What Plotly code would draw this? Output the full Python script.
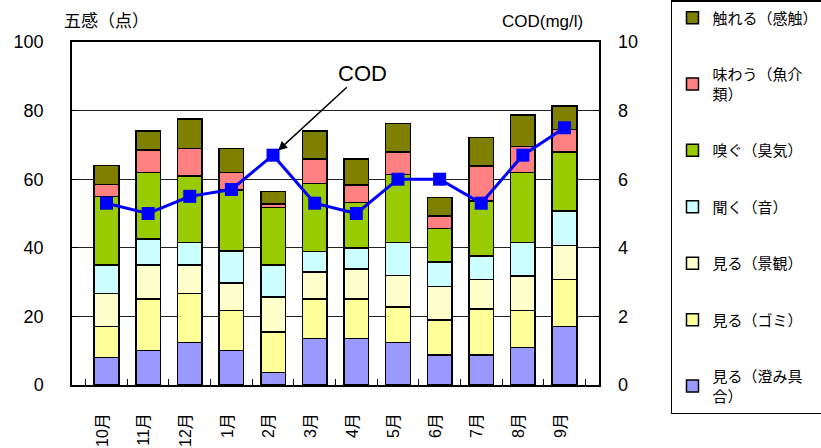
import plotly.graph_objects as go

months = ["10月", "11月", "12月", "1月", "2月", "3月", "4月", "5月", "6月", "7月", "8月", "9月"]

# stacked series (bottom -> top)
sumi = [8.0, 10.0, 12.4, 10.0, 3.7, 13.6, 13.6, 12.4, 8.7, 8.7, 11.0, 17.0]      # 見る（澄み具合）
gomi = [9.0, 15.1, 14.3, 11.7, 11.7, 11.5, 11.5, 10.3, 10.3, 13.5, 10.7, 13.8]  # 見る（ゴミ）
keikan = [9.7, 9.9, 8.3, 8.1, 10.2, 7.8, 8.7, 9.2, 9.7, 8.6, 10.1, 9.8]          # 見る（景観）
oto = [8.3, 7.6, 6.5, 9.3, 9.4, 6.0, 6.2, 9.6, 7.2, 6.8, 9.7, 10.1]              # 聞く（音）
shuki = [20.0, 19.3, 19.4, 17.8, 16.8, 19.9, 13.2, 19.9, 9.7, 16.0, 20.4, 17.3]  # 嗅ぐ（臭気）
gyokai = [3.4, 6.6, 8.0, 5.0, 0.9, 7.1, 5.1, 6.5, 3.7, 10.2, 7.6, 6.5]           # 味わう（魚介類）
kanshoku = [5.6, 5.6, 8.7, 7.1, 3.7, 8.2, 7.6, 8.3, 5.4, 8.3, 9.2, 6.9]          # 触れる（感触）

cod = [5.3, 5.0, 5.5, 5.7, 6.7, 5.3, 5.0, 6.0, 6.0, 5.3, 6.7, 7.5]

series = [
    ("見る（澄み具<br>合）", sumi, "#9999FF"),
    ("見る（ゴミ）", gomi, "#FFFF99"),
    ("見る（景観）", keikan, "#FFFFCC"),
    ("聞く（音）", oto, "#CCFFFF"),
    ("嗅ぐ（臭気）", shuki, "#99CC00"),
    ("味わう（魚介<br>類）", gyokai, "#FF8080"),
    ("触れる（感触）", kanshoku, "#808000"),
]

FONT = "Liberation Sans, Noto Sans CJK JP, sans-serif"

fig = go.Figure()
n = len(series)
for i, (name, vals, col) in enumerate(series):
    fig.add_trace(go.Bar(
        x=months, y=vals, name=name, legendgroup=f"g{i}",
        legendrank=n - i,
        marker=dict(color=col, line=dict(color="black", width=1.5)),
        yaxis="y",
    ))

fig.add_trace(go.Scatter(
    x=months, y=cod, mode="lines+markers", name="COD", showlegend=False,
    line=dict(color="#0000FF", width=3),
    marker=dict(symbol="square", size=13, color="#0000FF"),
    yaxis="y2",
))

fig.update_layout(
    width=821, height=448,
    margin=dict(l=72, r=222, t=42, b=63, autoexpand=False),
    paper_bgcolor="white", plot_bgcolor="white",
    barmode="stack", bargap=0.41,
    font=dict(family=FONT, size=16, color="black"),
    showlegend=True,
    legend=dict(
        x=1.1366, y=1.1224, xanchor="left", yanchor="top",
        traceorder="grouped", tracegroupgap=34,
        bordercolor="black", borderwidth=1.5,
        font=dict(family=FONT, size=15),
        itemwidth=30, maxheight=1,
    ),
    xaxis=dict(
        type="category", tickangle=-90, ticks="inside", tickson="boundaries",
        ticklen=6, tickcolor="black", showline=True, linecolor="black",
        linewidth=1.5, mirror=True, showgrid=False,
        tickfont=dict(size=16), ticklabelstandoff=20, ticklabelshift=-4,
    ),
    yaxis=dict(
        range=[0, 100], dtick=20, ticks="inside", ticklen=6, tickcolor="black",
        showline=True, linecolor="black", linewidth=1.5, mirror=True,
        showgrid=True, gridcolor="#222222", gridwidth=1,
        tickfont=dict(size=18), ticklabelstandoff=23, zeroline=False,
    ),
    yaxis2=dict(
        range=[0, 10], dtick=2, overlaying="y", side="right",
        ticks="inside", ticklen=6, tickcolor="black", showgrid=False,
        showline=False, tickfont=dict(size=18), ticklabelstandoff=18,
        zeroline=False,
    ),
    annotations=[
        dict(text="五感（点）", xref="paper", yref="paper", x=-0.019, y=1.061,
             xanchor="left", yanchor="middle", showarrow=False,
             font=dict(size=17)),
        dict(text="COD(mg/l)", xref="paper", yref="paper", x=0.9734, y=1.061,
             xanchor="right", yanchor="middle", showarrow=False,
             font=dict(size=17)),
        dict(text="COD", x="2月", y=67, xref="x", yref="y", ax=89, ay=-82,
             showarrow=True, arrowhead=2, arrowsize=1.2, arrowwidth=1.5,
             arrowcolor="black", standoff=7, font=dict(size=22)),
    ],
)

fig.write_html(
    "out.html",
    config={"displayModeBar": False},
    post_script="document.body.style.margin='0';document.body.style.padding='0';",
)
